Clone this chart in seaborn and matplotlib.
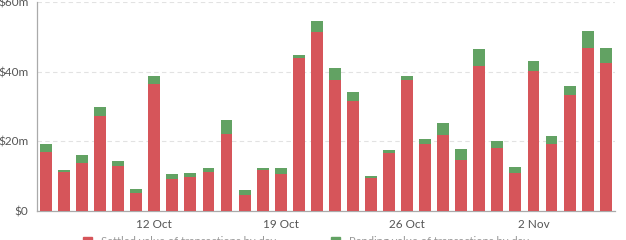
import matplotlib
matplotlib.use("Agg")
import matplotlib.pyplot as plt
import seaborn as sns
import pandas as pd
from matplotlib.patches import Patch

dates = pd.date_range("2023-10-06", "2023-11-06", freq="D")
red_vals = [16.9, 11.2, 13.8, 27.2, 12.9, 5.1, 36.5, 9.2, 9.8, 11.2,
            22.2, 4.7, 11.9, 10.7, 44.0, 51.4, 37.6, 31.7, 9.4, 16.6,
            37.6, 19.3, 21.8, 14.7, 41.5, 18.0, 10.8, 40.3, 19.2, 33.2,
            46.8, 42.6]
green_vals = [2.3, 0.7, 2.4, 2.7, 1.4, 1.3, 2.2, 1.4, 1.2, 1.2,
              3.9, 1.2, 0.3, 1.5, 0.7, 3.2, 3.3, 2.4, 0.6, 0.8,
              1.2, 1.3, 3.5, 3.1, 5.1, 2.1, 1.8, 2.7, 2.2, 2.7,
              4.8, 4.2]
tick_idx = [6, 13, 20, 27]
tick_labels = ["12 Oct", "19 Oct", "26 Oct", "2 Nov"]
ytick_vals = [0, 20, 40, 60]
ytick_labels = ["$0", "$20m", "$40m", "$60m"]
series_names = ["Settled value of transactions by day",
                "Pending value of transactions by day"]

RED = "#d6555a"
GREEN = "#62a263"

df = pd.DataFrame({
    "day": [d.strftime("%Y-%m-%d") for d in dates],
    "red": red_vals,
    "green": green_vals,
})
df["total"] = df["red"] + df["green"]

sns.set_theme(style="white")
plt.rcParams["font.family"] = ["Lato", "DejaVu Sans"]

fig = plt.figure(figsize=(6.26, 2.4), dpi=100)
ax = fig.add_axes([0.059, 0.121, 0.923, 0.871])

sns.barplot(data=df, x="day", y="total", color=GREEN, width=0.66,
            saturation=1, ax=ax, zorder=2, linewidth=0)
sns.barplot(data=df, x="day", y="red", color=RED, width=0.66,
            saturation=1, ax=ax, zorder=3, linewidth=0)

ax.set_xlim(-0.5, 31.5)
ax.set_ylim(0, 60)
ax.set_xticks(tick_idx)
ax.set_xticklabels(tick_labels)
ax.set_yticks(ytick_vals)
ax.set_yticklabels(ytick_labels)
ax.set_xlabel("")
ax.set_ylabel("")
ax.tick_params(axis="both", colors="#555555", labelsize=8.5, length=4,
               width=0.8, direction="out")
ax.tick_params(axis="y", length=4, color="#aaaaaa", pad=2)
ax.tick_params(axis="x", color="#aaaaaa", pad=2)
for t in ax.get_xticklabels() + ax.get_yticklabels():
    t.set_color("#555555")

ax.grid(axis="y", color="#e2e2e2", linestyle=(0, (4, 3)), linewidth=0.8, zorder=0)
ax.set_axisbelow(True)
for side in ["top", "right"]:
    ax.spines[side].set_visible(False)
for side in ["left", "bottom"]:
    ax.spines[side].set_color("#aaaaaa")
    ax.spines[side].set_linewidth(0.9)

handles = [Patch(color=RED, label=series_names[0]),
           Patch(color=GREEN, label=series_names[1])]
fig.legend(handles=handles, loc="upper center", bbox_to_anchor=(0.489, 0.018),
           ncol=2, frameon=False, fontsize=8, labelcolor="#999999",
           handlelength=0.8, handleheight=0.8, columnspacing=5,
           borderpad=0, borderaxespad=0)

fig.savefig("out.png", dpi=100)
